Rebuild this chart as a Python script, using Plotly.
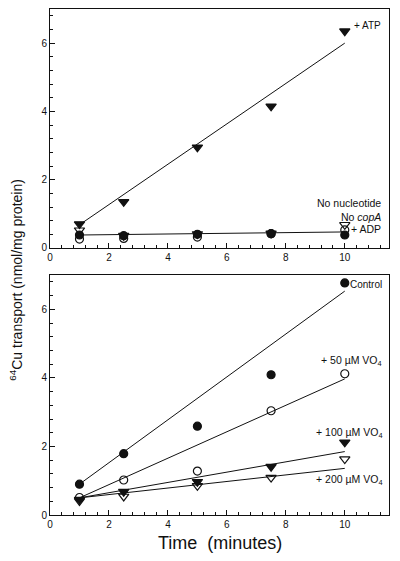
import plotly.graph_objects as go
from plotly.subplots import make_subplots

time = [1, 2.5, 5, 7.5, 10]

# Top panel
atp = [0.70, 1.35, 2.95, 4.15, 6.35]
no_nucleotide = [0.52, 0.36, 0.41, 0.43, 0.68]
no_copA = [0.26, 0.28, 0.32, 0.42, 0.53]
adp = [0.38, 0.36, 0.40, 0.42, 0.38]
fit_x = [1, 10]
atp_fit = [0.68, 6.0]
flat_fit = [0.38, 0.47]

# Bottom panel
control = [0.90, 1.79, 2.59, 4.09, 6.77]
vo4_50 = [0.51, 1.02, 1.28, 3.04, 4.12]
vo4_100 = [0.45, 0.68, 0.97, 1.41, 2.12]
vo4_200 = [0.41, 0.54, 0.85, 1.09, 1.63]
control_fit = [0.90, 6.53]
vo4_50_fit = [0.50, 3.97]
vo4_100_fit = [0.50, 1.85]
vo4_200_fit = [0.50, 1.36]

FONT = "Liberation Sans, Arial, sans-serif"
INK = "#111111"

fig = make_subplots(rows=2, cols=1, vertical_spacing=0.05)

def pts(x, y, symbol, row, size=8):
    fig.add_trace(go.Scatter(x=x, y=y, mode="markers",
                             marker=dict(symbol=symbol, size=size, color=INK,
                                         line=dict(color=INK, width=1.2)),
                             showlegend=False), row=row, col=1)

def line(x, y, row):
    fig.add_trace(go.Scatter(x=x, y=y, mode="lines",
                             line=dict(color=INK, width=1),
                             showlegend=False), row=row, col=1)

line(fit_x, atp_fit, 1)
line(fit_x, flat_fit, 1)
pts(time, no_nucleotide, "triangle-down-open", 1, 9)
pts(time, no_copA, "circle-open", 1)
pts(time, adp, "circle", 1)
pts(time, atp, "triangle-down", 1, 9)

line(fit_x, control_fit, 2)
line(fit_x, vo4_50_fit, 2)
line(fit_x, vo4_100_fit, 2)
line(fit_x, vo4_200_fit, 2)
pts(time, control, "circle", 2)
pts(time, vo4_50, "circle-open", 2)
pts(time, vo4_100, "triangle-down", 2, 9)
pts(time, vo4_200, "triangle-down-open", 2, 9)

axis_common = dict(showline=True, linecolor=INK, linewidth=1, mirror=True,
                   ticks="inside", ticklen=5, tickwidth=1, tickcolor=INK,
                   showgrid=False, zeroline=False,
                   tickfont=dict(family=FONT, size=10, color=INK),
                   minor=dict(ticks="inside", ticklen=3, dtick=0.4,
                              tickcolor=INK, tickwidth=1, showgrid=False))

for r in (1, 2):
    fig.update_xaxes(range=[0, 11.5], dtick=2, tick0=0, row=r, col=1, **axis_common)
    fig.update_yaxes(range=[0, 7], dtick=2, tick0=0, row=r, col=1, **axis_common)

# page body has an 8px default margin, so the figure is 8px smaller
fig.update_layout(
    width=392, height=553,
    margin=dict(l=42, r=10.5, t=1, b=46),
    paper_bgcolor="white", plot_bgcolor="white",
    font=dict(family=FONT, color=INK),
    yaxis=dict(domain=[0.5277, 1.0]),
    yaxis2=dict(domain=[0.0, 0.4743]),
)

ann = []
def lab(text, x, y, xref, yref, size=10):
    ann.append(dict(text=text, x=x, y=y, xref=xref, yref=yref, showarrow=False,
                    xanchor="right", yanchor="middle",
                    font=dict(family=FONT, size=size, color=INK)))

lab("+ ATP", 11.3, 6.53, "x", "y")
lab("No nucleotide", 11.3, 1.32, "x", "y", 10.5)
lab("No <i>copA</i>", 11.3, 0.91, "x", "y", 10.5)
lab("+ ADP", 11.3, 0.56, "x", "y", 10.5)
lab("Control", 11.33, 6.73, "x2", "y2")
lab("+ 50 µM VO<sub>4</sub>", 11.33, 4.5, "x2", "y2", 10.5)
lab("+ 100 µM VO<sub>4</sub>", 11.33, 2.4, "x2", "y2", 10.5)
lab("+ 200 µM VO<sub>4</sub>", 11.33, 1.02, "x2", "y2", 10.5)

ann.append(dict(text="Time  (minutes)", x=0.5, y=-0.055, xref="paper", yref="paper",
                showarrow=False, xanchor="center", yanchor="middle",
                font=dict(family=FONT, size=18, color=INK)))
ann.append(dict(text="<sup>64</sup>Cu transport (nmol/mg protein)", x=-0.099, y=0.466,
                xref="paper", yref="paper", showarrow=False, textangle=-90,
                xanchor="center", yanchor="middle",
                font=dict(family=FONT, size=14, color=INK)))
fig.update_layout(annotations=ann)

fig.write_html("out.html")
